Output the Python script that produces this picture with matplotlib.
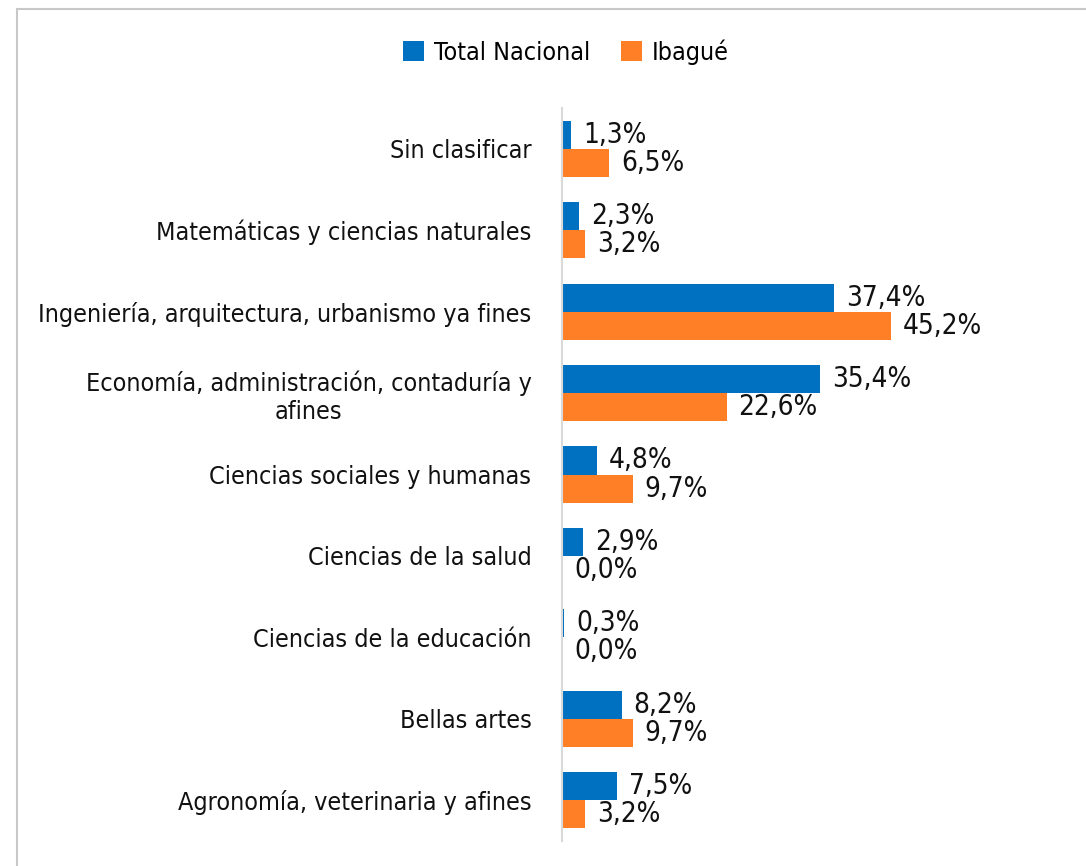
import matplotlib
matplotlib.use("Agg")
import matplotlib.pyplot as plt
from matplotlib import font_manager
from matplotlib.lines import Line2D
import numpy as np

categories = ["Sin clasificar",
              "Matemáticas y ciencias naturales",
              "Ingeniería, arquitectura, urbanismo ya fines",
              "Economía, administración, contaduría y\nafines",
              "Ciencias sociales y humanas",
              "Ciencias de la salud",
              "Ciencias de la educación",
              "Bellas artes",
              "Agronomía, veterinaria y afines"]
total_nacional = [1.3, 2.3, 37.4, 35.4, 4.8, 2.9, 0.3, 8.2, 7.5]
ibague = [6.5, 3.2, 45.2, 22.6, 9.7, 0.0, 0.0, 9.7, 3.2]
series_names = ["Total Nacional", "Ibagué"]

names = {f.name for f in font_manager.fontManager.ttflist}
if "Liberation Sans Narrow" in names:
    plt.rcParams['font.family'] = ['Liberation Sans Narrow', 'DejaVu Sans']
else:
    plt.rcParams['font.family'] = ['DejaVu Sans']
    plt.rcParams['font.stretch'] = 'condensed'

blue = '#0070C0'
orange = '#FF7F27'

W, H = 1086, 866
fig = plt.figure(figsize=(W / 100, H / 100), dpi=100)
ax = fig.add_axes([562 / W, 1 - 841 / H, (1050 - 562) / W, (841 - 108) / H])

y = np.arange(len(categories))
bh = 0.345
b1 = ax.barh(y - bh / 2, total_nacional, height=bh, color=blue, label=series_names[0])
b2 = ax.barh(y + bh / 2, ibague, height=bh, color=orange, label=series_names[1])

fs = 18
for bars, vals in [(b1, total_nacional), (b2, ibague)]:
    for bar, v in zip(bars, vals):
        ax.annotate(f"{v:.1f}%".replace(".", ","),
                    (bar.get_width(), bar.get_y() + bar.get_height() / 2),
                    xytext=(12, 0), textcoords='offset pixels',
                    ha='left', va='center', fontsize=20, color='#111111')

ax.set_xlim(0, 67)
ax.set_ylim(len(categories) - 0.5, -0.5)
ax.set_yticks(y)
ax.set_yticklabels(categories, fontsize=fs, color='#111111', multialignment='center')
ax.tick_params(axis='y', length=0, pad=22)
ax.set_xticks([])
for s in ['top', 'right', 'bottom']:
    ax.spines[s].set_visible(False)
ax.spines['left'].set_color('#D9D9D9')
ax.spines['left'].set_linewidth(1.5)

fig.legend(loc='center', bbox_to_anchor=(566 / W, 1 - 52 / H), ncol=2, frameon=False,
           fontsize=18, handlelength=0.85, handleheight=0.85, handletextpad=0.4,
           columnspacing=1.2)

# outer frame
fig.add_artist(Line2D([17 / W, 1], [1 - 9 / H, 1 - 9 / H], color='#C8C8C8', lw=1.5,
                      transform=fig.transFigure))
fig.add_artist(Line2D([17 / W, 17 / W], [0, 1 - 9 / H], color='#C8C8C8', lw=1.5,
                      transform=fig.transFigure))

fig.savefig("out.png", dpi=100, facecolor='white')
